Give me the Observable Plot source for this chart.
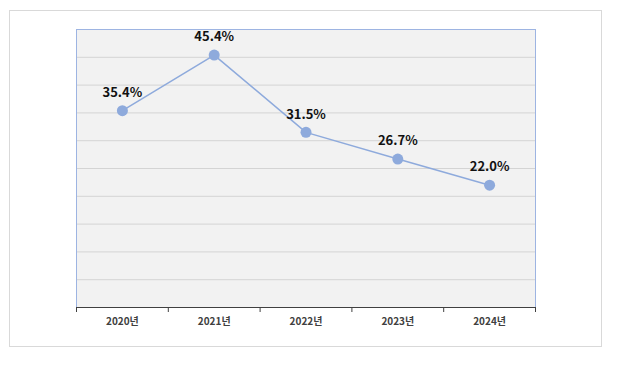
<!DOCTYPE html>
<html>
<head>
<meta charset="utf-8">
<script src="https://cdn.jsdelivr.net/npm/d3@7"></script>
<script src="https://cdn.jsdelivr.net/npm/@observablehq/plot@0.6"></script>
<style>
  html, body { margin: 0; padding: 0; background: #fff; }
  #wrap { position: relative; width: 641px; height: 388px; }
  #outer { position: absolute; left: 9px; top: 10px; width: 593px; height: 337px; border: 1px solid #d9d9d9; box-sizing: border-box; }
  #chart { position: absolute; left: 0; top: 0; }
</style>
</head>
<body>
<div id="wrap"><div id="outer"></div><div id="chart"></div></div>
<script>
const years = ["2020년", "2021년", "2022년", "2023년", "2024년"];
const values = [35.4, 45.4, 31.5, 26.7, 22.0];
const labels = ["35.4%", "45.4%", "31.5%", "26.7%", "22.0%"];
const yGrid = [5, 10, 15, 20, 25, 30, 35, 40, 45];

const data = years.map((y, i) => ({i, year: y, value: values[i], label: labels[i]}));
const font = "'Noto Sans CJK KR', 'Noto Sans', sans-serif";

const chart = Plot.plot({
  width: 641,
  height: 388,
  marginLeft: 76,
  marginRight: 106,
  marginTop: 29,
  marginBottom: 81,
  style: {fontFamily: font, background: "transparent", overflow: "visible"},
  x: {type: "linear", domain: [-0.5, years.length - 0.5]},
  y: {domain: [0, 50], axis: null},
  marks: [
    Plot.frame({fill: "#f2f2f2", stroke: "none"}),
    Plot.ruleY(yGrid, {stroke: "#d4d4d4", strokeWidth: 1}),
    Plot.ruleX([-0.5, years.length - 0.5], {stroke: "#9db4e2", strokeWidth: 1}),
    Plot.ruleY([50], {stroke: "#9db4e2", strokeWidth: 1}),
    Plot.ruleY([0], {stroke: "#404040", strokeWidth: 1}),
    Plot.axisX(d3.range(-0.5, years.length, 1), {tickSize: 5, tickFormat: () => "", stroke: "#404040", label: null}),
    Plot.axisX(d3.range(0, years.length), {tickSize: 0, tickPadding: 10, tickFormat: i => years[i], fontSize: 10, fontWeight: "bold", fill: "#404040", label: null}),
    Plot.line(data, {x: "i", y: "value", stroke: "#8eaadc", strokeWidth: 1.5}),
    Plot.dot(data, {x: "i", y: "value", r: 5.5, fill: "#8eaadc", stroke: "none"}),
    Plot.text(data, {x: "i", y: "value", text: "label", dy: -18, fontSize: 13, fontWeight: "bold", fill: "#111"})
  ]
});
document.getElementById("chart").appendChild(chart);
</script>
</body>
</html>
